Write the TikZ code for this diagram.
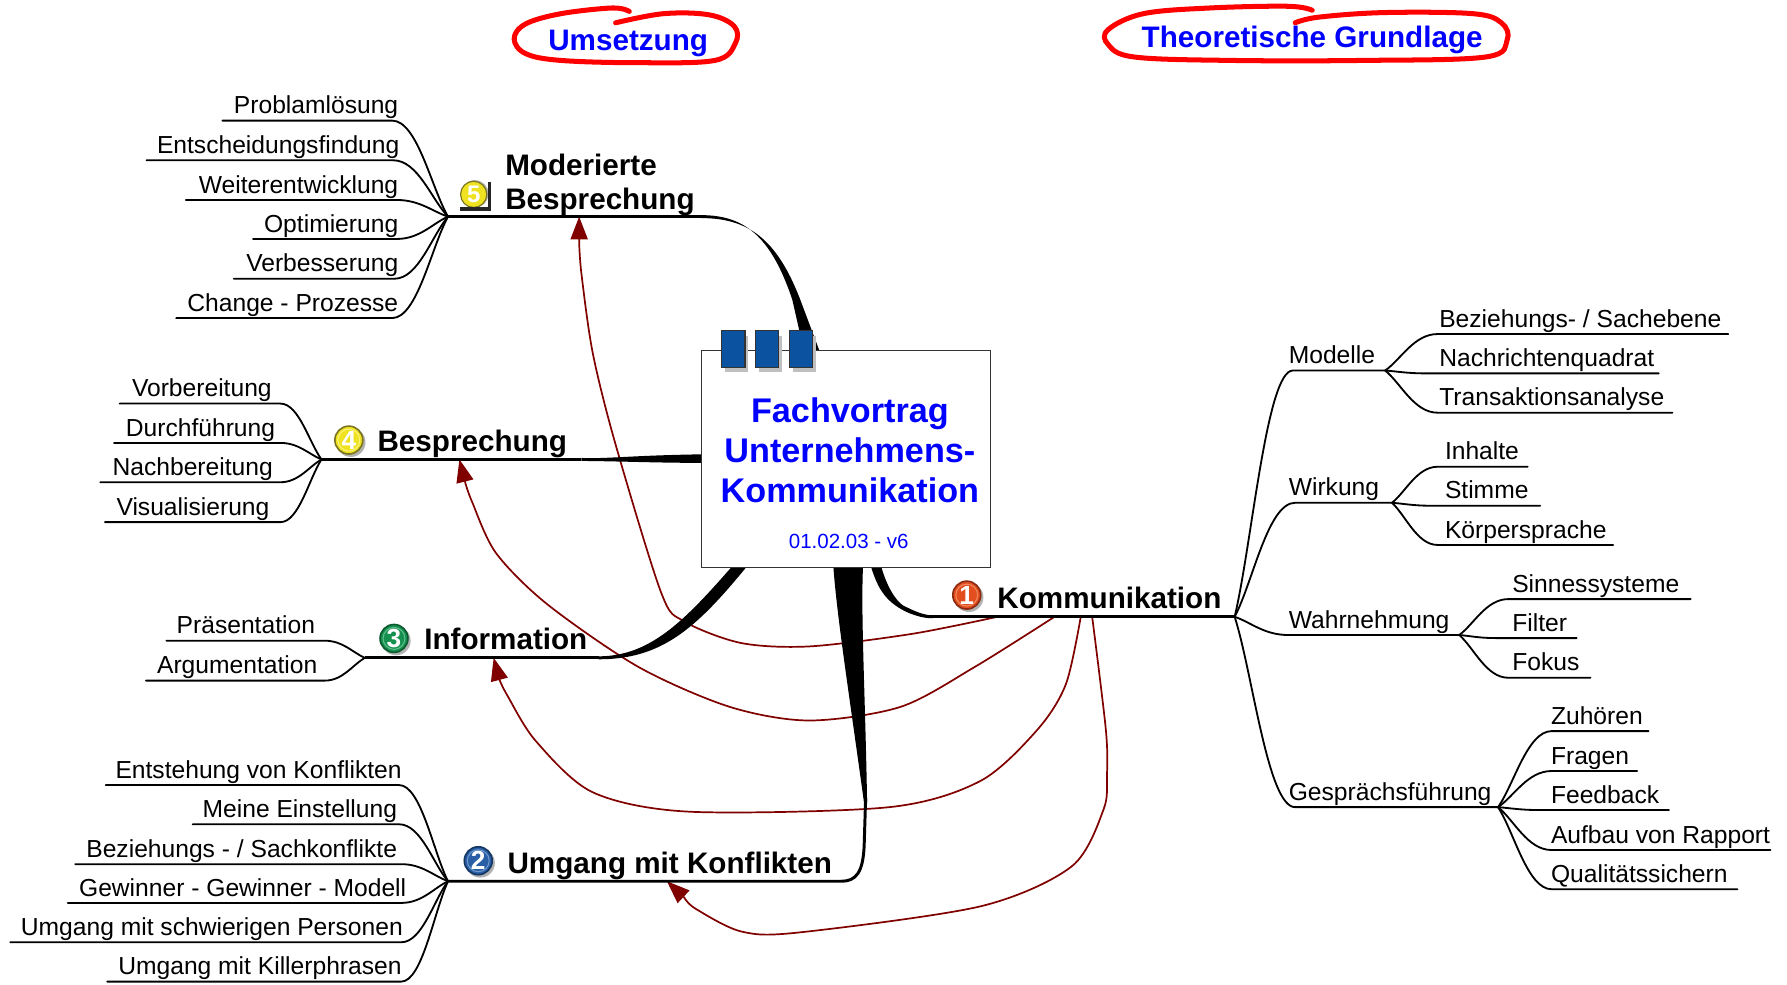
\documentclass[tikz,border=0pt]{standalone}
\usepackage{fontspec}
\setmainfont{Liberation Sans}
\usetikzlibrary{calc,arrows.meta}
\definecolor{linkred}{HTML}{800000}
\definecolor{titleblue}{HTML}{0000FF}
\definecolor{tabblue}{HTML}{0B52A0}
\definecolor{bOrange}{HTML}{E24E1E}
\definecolor{bOrangeD}{HTML}{8A2A10}
\definecolor{bOrangeL}{HTML}{F08A60}
\definecolor{bBlue}{HTML}{2A5FA5}
\definecolor{bBlueD}{HTML}{123562}
\definecolor{bBlueL}{HTML}{6F98CC}
\definecolor{bGreen}{HTML}{15904F}
\definecolor{bGreenD}{HTML}{0A5A2E}
\definecolor{bGreenL}{HTML}{62BE8C}
\definecolor{bYellow}{HTML}{EFE321}
\definecolor{bYellowD}{HTML}{7A7420}
\definecolor{bYellowL}{HTML}{FAF27A}
\tikzset{
  x=1pt,y=-1pt,
  leaf/.style={inner sep=0pt,font=\fontsize{21.6}{26}\selectfont,text=black},
  nudge west/.style={xshift=-.7pt},
  nudge east/.style={xshift=.5pt},
  head/.style={inner sep=0pt,font=\fontsize{26}{30}\bfseries\selectfont,text=black,align=left},
  title/.style={inner sep=0pt,font=\fontsize{26}{31}\bfseries\selectfont,text=titleblue},
  maintitle/.style={anchor=base,inner sep=0pt,font=\fontsize{30}{35}\bfseries\selectfont,text=titleblue},
  branch/.style={line width=1.6pt,black,line cap=round},
  mainline/.style={line width=2.6pt,black},
  scribble/.style={red,line width=4.4pt,line cap=round,line join=round},
  relation/.style={linkred,line width=1.5pt,-{Triangle[length=20pt,width=15pt]}},
  tab/.style={fill=tabblue,draw=black!80,line width=1pt,minimum height=32pt,inner sep=0pt},
  tabshadow/.style={fill=black!25},
}
% id, text, anchor, text x, line y, far end x, near end x, hub
\newcommand\leaf[8]{%
  \coordinate (#1c) at (#7,#5);
  \coordinate (#1f) at (#6,#5);
  \node[leaf,anchor=base #3,nudge #3] (#1) at (#4,#5-6) {#2};
  \draw[branch] (#8) .. controls ($(#8)!.3!(#1c)$) and ($(#1c)!.45!(#8|-#1c)$) .. (#1c) -- (#1f);
}
% id, x, y, fill, ring, highlight, number
\newcommand\badge[7]{%
  \fill[black!30] (#2+1.8,#3+2) circle (12.8);
  \node[circle,fill=#4,draw=#5,line width=1.4pt,minimum size=24.5pt,inner sep=0pt,text=white,
        path picture={\draw[#6,line width=.9pt] (path picture bounding box.center) circle (9.6);},
        font=\fontsize{23}{23}\bfseries\selectfont] (#1) at (#2,#3) {#7};
}
\begin{document}
\begin{tikzpicture}
\path[use as bounding box,fill=white] (0,0) rectangle (1567.5,863.2);

% hubs
\coordinate (hubA) at (1083,541);
\coordinate (hubB) at (393,190);
\coordinate (hubC) at (282,403);
\coordinate (hubD) at (320,577);
\coordinate (hubE) at (393,773);
\coordinate (hubM) at (1215,325);
\coordinate (hubW) at (1221,441);
\coordinate (hubN) at (1280,557);
\coordinate (hubG) at (1314,708);

% heading nodes
\node[head,anchor=base west] (kom) at (874.7,533.5) {Kommunikation};
\node[head,anchor=base west] (kon) at (445,766) {Umgang mit Konflikten};
\node[head,anchor=base west] (inf) at (372,570) {Information};
\node[head,anchor=base west] (bes) at (331,396) {Besprechung};
\node[head,anchor=south west,inner sep=0pt] (mod) at (443,189.5) {Moderierte\\Besprechung};

% relation arrows
\coordinate (sA) at (875,541);
\coordinate (sB) at (925,541);
\coordinate (sC) at (948,541);
\coordinate (sD) at (958,541);
\coordinate (tA) at (508,190);
\coordinate (tB) at (403,403);
\coordinate (tC) at (433,577);
\coordinate (tD) at (585,773);
\draw[relation] plot[smooth,tension=.5] coordinates {(sA) (800,556) (710,567) (650,564) (600,545) (580,520) (540,390) (520,310) (510,240) (508,212)} -- (tA);
\draw[relation] plot[smooth,tension=.5] coordinates {(sB) (855,585) (790,620) (710,632) (640,620) (560,585) (480,530) (435,485) (414,440) (408,423)} -- (tB);
\draw[relation] plot[smooth,tension=.5] coordinates {(sC) (935,600) (910,640) (860,685) (780,708) (605,712) (520,695) (470,650) (445,610) (438,596)} -- (tC);
\draw[relation] plot[smooth,tension=.5] coordinates {(sD) (970,640) (971,680) (968,710) (940,760) (860,795) (700,818) (650,817) (610,797) (600,787)} -- (tD);

% main branches
\coordinate (e5) at (615,190);
\draw[mainline] (hubB) -- (e5);
\fill (615,188.7) .. controls (652,188.7) and (676,206) .. (695,263) -- (705,307) -- (718.5,307) -- (702,263) .. controls (681,208) and (655,191.3) .. (615,191.3) -- cycle;

\coordinate (e4) at (510,403);
\draw[mainline] (hubC) -- (e4);
\fill (510,401.7) .. controls (535,402.5) and (552,399.5) .. (616,398.5) -- (616,406) .. controls (575,406) and (550,404.7) .. (510,404.3) -- cycle;

\coordinate (e3) at (525,577);
\draw[mainline] (hubD) -- (e3);
\fill (525,575.7) .. controls (570,575.7) and (600,545) .. (642,497) -- (655,497) .. controls (610,552) and (580,578.3) .. (525,578.3) -- cycle;

\coordinate (e2) at (738,773);
\draw[mainline] (hubE) -- (e2) .. controls (751,773) and (757,765) .. (758,742) -- (759.3,700);
\fill (731,497) .. controls (734,540) and (745,610) .. (758,705) -- (760.6,705) .. controls (759,610) and (755,540) .. (757,497) -- cycle;

\coordinate (e1) at (816,541);
\draw[mainline] (e1) -- (hubA);
\fill (764,497) .. controls (768,510) and (772,518) .. (778,524.5) .. controls (784,531) and (791,535) .. (798,538) .. controls (805,540.5) and (810,542.3) .. (818,542.3) -- (818,539.7) .. controls (810,539.7) and (802,536) .. (792,531) .. controls (786,527) and (778,515) .. (773,497) -- cycle;

% central node
\node[draw=black!80,fill=white,line width=1pt,inner sep=0pt,minimum width=254pt,minimum height=190.5pt] (box) at (742,402.5) {};
\foreach \name/\cx/\w in {tabA/643/21,tabB/672.8/19.6,tabC/702.8/20.5}{
  \fill[tabshadow] (\cx-\w/2+3,295) rectangle (\cx+\w/2+3,326);
  \node[tab,minimum width=\w pt] (\name) at (\cx,306) {};
}
\node[maintitle] (t1) at (745.5,371) {Fachvortrag};
\node[maintitle] (t2) at (745.5,406) {Unternehmens-};
\node[maintitle] (t3) at (745.5,441) {Kommunikation};
\node[anchor=base,inner sep=0pt,font=\fontsize{18}{22}\selectfont,text=titleblue] (date) at (744.5,481) {01.02.03 - v6};

% top labels with hand drawn rings
\node[title] (ums) at (551,38) {Umsetzung};
\node[title] (the) at (1151,35) {Theoretische Grundlage};
\draw[scribble] plot[smooth,tension=.6] coordinates {(552,10) (537,7) (492,12) (461,21) (451,34) (461,47) (492,53) (560,55) (627,53) (645,38) (644,23) (622,13) (582,12) (540,20)};
\draw[scribble] plot[smooth,tension=.6] coordinates {(1151,9) (1130,5.5) (1061,7) (1003,12) (972,26) (972,39) (995,50) (1080,53) (1195,53) (1303,50) (1322,35) (1317,20) (1292,12) (1215,11) (1157,15) (1136,20)};

% right side: first level
\leaf{lM}{Modelle}{west}{1131}{325}{1215}{1134}{hubA}
\leaf{lW}{Wirkung}{west}{1131}{441}{1221}{1136}{hubA}
\leaf{lN}{Wahrnehmung}{west}{1131}{557}{1280}{1130}{hubA}
\leaf{lG}{Gesprächsführung}{west}{1131}{708}{1314}{1136}{hubA}

% Modelle
\leaf{m1}{Beziehungs- / Sachebene}{west}{1263}{293}{1516}{1261}{hubM}
\leaf{m2}{Nachrichtenquadrat}{west}{1263}{327.5}{1455}{1250}{hubM}
\leaf{m3}{Transaktionsanalyse}{west}{1263}{362}{1467}{1261}{hubM}
% Wirkung
\leaf{w1}{Inhalte}{west}{1268}{409.4}{1340}{1261}{hubW}
\leaf{w2}{Stimme}{west}{1268}{443.6}{1351}{1255}{hubW}
\leaf{w3}{Körpersprache}{west}{1268}{478}{1415}{1261}{hubW}
% Wahrnehmung
\leaf{n1}{Sinnessysteme}{west}{1327}{525.5}{1483}{1323}{hubN}
\leaf{n2}{Filter}{west}{1327}{559.7}{1383}{1312}{hubN}
\leaf{n3}{Fokus}{west}{1327}{594.5}{1395}{1323}{hubN}
% Gespraechsfuehrung
\leaf{g1}{Zuhören}{west}{1361}{641.3}{1446}{1361}{hubG}
\leaf{g2}{Fragen}{west}{1361}{676.3}{1436}{1361}{hubG}
\leaf{g3}{Feedback}{west}{1361}{710.5}{1464}{1349}{hubG}
\leaf{g4}{Aufbau von Rapport}{west}{1361}{745.6}{1553}{1361}{hubG}
\leaf{g5}{Qualitätssichern}{west}{1361}{780}{1524}{1361}{hubG}

% Moderierte Besprechung
\leaf{b1}{Problamlösung}{east}{349}{105.8}{195}{344}{hubB}
\leaf{b2}{Entscheidungsfindung}{east}{350}{140.6}{128.5}{345}{hubB}
\leaf{b3}{Weiterentwicklung}{east}{349}{175.4}{163}{348}{hubB}
\leaf{b4}{Optimierung}{east}{349}{209.6}{222}{348}{hubB}
\leaf{b5}{Verbesserung}{east}{349}{244.5}{205}{346}{hubB}
\leaf{b6}{Change - Prozesse}{east}{349}{279}{154.5}{344}{hubB}
% Besprechung
\leaf{c1}{Vorbereitung}{east}{238}{354}{105}{246}{hubC}
\leaf{c2}{Durchführung}{east}{241}{388.5}{100}{246}{hubC}
\leaf{c3}{Nachbereitung}{east}{239}{423}{88}{246}{hubC}
\leaf{c4}{Visualisierung}{east}{236}{458}{92}{246}{hubC}
% Information
\leaf{d1}{Präsentation}{east}{276}{562}{146}{285}{hubD}
\leaf{d2}{Argumentation}{east}{278}{597}{128}{285}{hubD}
% Konflikte
\leaf{k1}{Entstehung von Konflikten}{east}{352}{688.6}{92.7}{350}{hubE}
\leaf{k2}{Meine Einstellung}{east}{348}{723}{169}{350}{hubE}
\leaf{k3}{Beziehungs - / Sachkonflikte}{east}{348}{758}{66}{352}{hubE}
\leaf{k4}{Gewinner - Gewinner - Modell}{east}{356}{792}{59.5}{352}{hubE}
\leaf{k5}{Umgang mit schwierigen Personen}{east}{353}{826.5}{9}{352}{hubE}
\leaf{k6}{Umgang mit Killerphrasen}{east}{352}{861}{94}{352}{hubE}

% badges
\badge{i1}{848}{522}{bOrange}{bOrangeD}{bOrangeL}{1}
\badge{i2}{419.5}{755}{bBlue}{bBlueD}{bBlueL}{2}
\badge{i3}{345.6}{560}{bGreen}{bGreenD}{bGreenL}{3}
\badge{i4}{306}{386}{bYellow}{bYellowD}{bYellowL}{4}
\fill[black!30] (416.5,170) circle (12);
\node[circle,fill=bYellow,draw=bYellowD,line width=1pt,minimum size=23pt,inner sep=0pt,text=white,
      font=\fontsize{21}{21}\bfseries\selectfont] (i5) at (415.5,170.5) {5};
\fill[black!85] (428,159.5) rectangle (430.5,185);
\fill[black!85] (403.6,181.5) rectangle (430.5,185);
\end{tikzpicture}
\end{document}
